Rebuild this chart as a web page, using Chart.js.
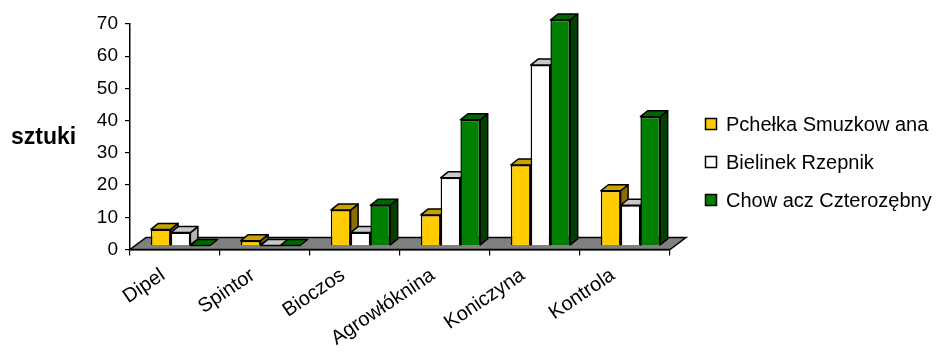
<!DOCTYPE html>
<html>
<head>
<meta charset="utf-8">
<script src="https://cdn.jsdelivr.net/npm/chart.js@4"></script>
<style>
  html, body { margin: 0; padding: 0; background: #fff; }
</style>
</head>
<body>
<canvas id="barChart" width="946" height="354"></canvas>
<script>
    // Data
    var categories = ['Dipel', 'Spintor', 'Bioczos', 'Agrowłóknina', 'Koniczyna', 'Kontrola'];
    var seriesNames = ['Pchełka Smuzkow ana', 'Bielinek Rzepnik', 'Chow acz Czterozębny'];
    var pchelka = [5, 1.5, 11, 9.5, 25, 17];
    var bielinek = [4, 0, 4, 21, 56, 12.5];
    var chowacz = [0, 0, 12.5, 39, 70, 40];
    var yTicks = [0, 10, 20, 30, 40, 50, 60, 70];

    // Colours: front, top and side faces of the bars
    var frontColors = ['#FFCC00', '#FFFFFF', '#008000'];
    var topColors = ['#C9A200', '#C8C8C8', '#006600'];
    var sideColors = ['#8A6E00', '#B4B4B4', '#004000'];

    var FONT = '"Liberation Sans", Arial, sans-serif';

    // fake 3D: floor, bar shift, top and side faces
    var barDepth = { dx: 7.5, dy: 6 };
    var floorDepth = { dx: 16, dy: 12 };
    var barShift = { dx: 5.5, dy: -4 };

    function drawFaces(ctx, bar, i) {
        var dx = barDepth.dx, dy = barDepth.dy;
        var p = bar.getProps(['x', 'y', 'base', 'width'], true);
        var l = p.x - p.width / 2, r = p.x + p.width / 2;
        var t = Math.min(p.y, p.base), b = p.base;
        ctx.save();
        ctx.lineWidth = 1.5;
        ctx.strokeStyle = '#000';
        ctx.lineJoin = 'round';
        // side
        if (b - t > 0.5) {
            ctx.beginPath();
            ctx.moveTo(r, t);
            ctx.lineTo(r + dx, t - dy);
            ctx.lineTo(r + dx, b - dy);
            ctx.lineTo(r, b);
            ctx.closePath();
            ctx.fillStyle = sideColors[i];
            ctx.fill();
            ctx.stroke();
        }
        // top
        ctx.beginPath();
        ctx.moveTo(l, t);
        ctx.lineTo(r, t);
        ctx.lineTo(r + dx, t - dy);
        ctx.lineTo(l + dx, t - dy);
        ctx.closePath();
        ctx.fillStyle = topColors[i];
        ctx.fill();
        ctx.stroke();
        ctx.restore();
    }

    var pseudo3d = {
        id: 'pseudo3d',
        beforeDatasetsDraw: function(chart) {
            var ctx = chart.ctx, xs = chart.scales.x, ys = chart.scales.y;
            var y0 = ys.getPixelForValue(0);
            ctx.save();
            ctx.beginPath();
            ctx.moveTo(xs.left, y0);
            ctx.lineTo(xs.right, y0);
            ctx.lineTo(xs.right + floorDepth.dx, y0 - floorDepth.dy);
            ctx.lineTo(xs.left + floorDepth.dx, y0 - floorDepth.dy);
            ctx.closePath();
            ctx.fillStyle = '#808080';
            ctx.fill();
            ctx.lineWidth = 1.5;
            ctx.strokeStyle = '#000';
            ctx.stroke();
            ctx.restore();
        },
        // chart.js paints the last dataset first; we want left to right instead
        beforeDatasetDraw: function() {
            return false;
        },
        afterDatasetsDraw: function(chart) {
            var ctx = chart.ctx;
            ctx.save();
            ctx.translate(barShift.dx, barShift.dy);
            chart.data.datasets.forEach(function(ds, i) {
                chart.getDatasetMeta(i).data.forEach(function(bar) {
                    bar.draw(ctx);
                    drawFaces(ctx, bar, i);
                });
            });
            ctx.restore();
        }
    };

    // legend on the right and the horizontal axis title
    var sideTexts = {
        id: 'sideTexts',
        afterDraw: function(chart) {
            var ctx = chart.ctx;
            ctx.save();
            ctx.textBaseline = 'middle';
            ctx.font = '20px ' + FONT;
            chart.data.datasets.forEach(function(ds, i) {
                var cy = 124 + i * 38;
                ctx.fillStyle = ds.backgroundColor;
                ctx.fillRect(705.5, cy - 5.5, 11, 11);
                ctx.lineWidth = 1.5;
                ctx.strokeStyle = '#000';
                ctx.strokeRect(705.5, cy - 5.5, 11, 11);
                ctx.fillStyle = '#000';
                ctx.fillText(ds.label, 726, cy + 1);
            });
            ctx.font = 'bold 23px ' + FONT;
            ctx.fillText('sztuki', 11, 138);
            ctx.restore();
        }
    };

    var ctx = document.getElementById('barChart').getContext('2d');

    var myBarChart = new Chart(ctx, {
        type: 'bar',
        data: {
            labels: categories,
            datasets: [
                { label: seriesNames[0], data: pchelka, backgroundColor: frontColors[0] },
                { label: seriesNames[1], data: bielinek, backgroundColor: frontColors[1] },
                { label: seriesNames[2], data: chowacz, backgroundColor: frontColors[2] }
            ]
        },
        options: {
            responsive: false,
            animation: false,
            layout: { padding: { top: 24, right: 276, bottom: 0, left: 0 } },
            datasets: {
                bar: {
                    borderColor: '#000',
                    borderWidth: 1.5,
                    categoryPercentage: 0.66,
                    barPercentage: 1.0,
                    clip: false
                }
            },
            plugins: {
                legend: { display: false },
                tooltip: { enabled: false }
            },
            scales: {
                x: {
                    afterFit: function(scale) { scale.height = 104.5; },
                    grid: { drawOnChartArea: false, color: '#000', lineWidth: 1.2, tickLength: 6 },
                    border: { display: true, color: '#000', width: 1.5 },
                    ticks: {
                        color: '#000',
                        font: { family: FONT, size: 20 },
                        minRotation: 34,
                        maxRotation: 34,
                        labelOffset: -12,
                        padding: 8,
                        autoSkip: false
                    }
                },
                y: {
                    min: 0,
                    max: 70,
                    afterFit: function(scale) { scale.width = 130; },
                    afterBuildTicks: function(scale) {
                        scale.ticks = yTicks.map(function(v) { return { value: v }; });
                    },
                    grid: { drawOnChartArea: false, color: '#000', lineWidth: 1.2, tickLength: 5 },
                    border: { display: true, color: '#000', width: 1.5 },
                    ticks: {
                        color: '#000',
                        font: { family: FONT, size: 19 },
                        padding: 7
                    }
                }
            }
        },
        plugins: [pseudo3d, sideTexts]
    });
</script>
</body>
</html>
